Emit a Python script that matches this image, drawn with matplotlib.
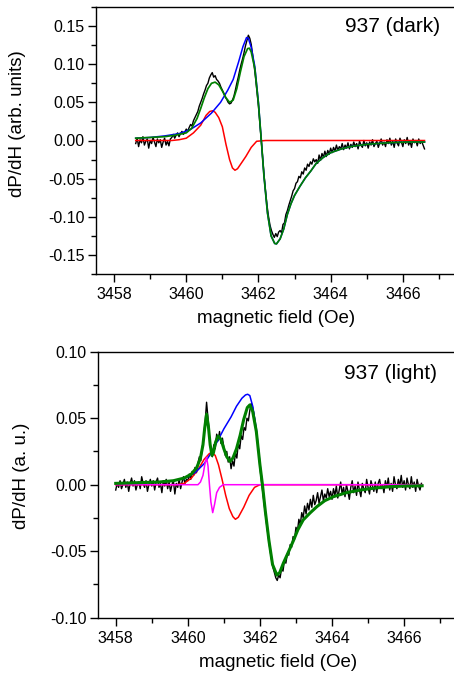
#EPR spectra of sample 937, dark and light, with fitted components
import numpy as np
import matplotlib.pyplot as plt
from matplotlib.ticker import MultipleLocator

plt.rcParams['font.family']=['Liberation Sans','DejaVu Sans']
plt.rcParams['axes.unicode_minus']=False

#top panel (dark)
dark_field=np.linspace(3458.6,3466.6,201)
dark_signal=[
-0.004,0.003,-0.008,0.001,-0.003,0.005,-0.006,-0.001,0.002,-0.010,0.000,-0.004,0.004,-0.002,-0.008,0.002,-0.003,0.001,-0.009,-0.002,0.003,-0.006,-0.001,-0.007,0.002,
0.004,0.008,0.003,0.007,0.010,0.005,0.009,0.012,0.008,0.011,0.015,0.012,0.017,0.021,0.019,0.026,0.030,0.034,0.038,0.045,0.050,0.055,0.061,0.066,0.072,
0.075,0.082,0.086,0.089,0.083,0.085,0.080,0.078,0.075,0.070,0.066,0.062,0.057,0.054,0.050,0.048,0.049,0.053,0.058,0.066,0.075,0.083,0.092,0.100,0.107,
0.115,0.124,0.131,0.138,0.134,0.126,0.112,0.098,0.082,0.064,0.045,0.022,0.000,-0.024,-0.048,-0.068,-0.086,-0.100,-0.111,-0.118,-0.123,-0.127,-0.122,-0.126,-0.120,
-0.118,-0.121,-0.110,-0.108,-0.097,-0.092,-0.085,-0.079,-0.073,-0.066,-0.063,-0.056,-0.054,-0.047,-0.049,-0.041,-0.044,-0.036,-0.039,-0.031,-0.034,-0.028,-0.031,-0.024,-0.028,
-0.025,-0.030,-0.019,-0.026,-0.017,-0.022,-0.014,-0.021,-0.013,-0.018,-0.010,-0.016,-0.009,-0.014,-0.006,-0.013,-0.008,-0.011,-0.004,-0.012,-0.006,-0.010,-0.003,-0.011,-0.005,
-0.009,-0.002,-0.008,-0.004,-0.011,-0.001,-0.006,-0.009,0.000,-0.007,-0.003,-0.010,-0.002,-0.006,0.001,-0.008,-0.004,-0.001,-0.009,-0.003,0.002,-0.006,-0.002,-0.008,0.001,
-0.004,0.003,-0.006,-0.001,-0.009,0.002,-0.003,-0.007,0.003,-0.002,-0.008,0.001,-0.004,0.004,-0.006,-0.001,-0.009,0.002,-0.003,0.000,-0.007,0.002,-0.004,-0.001,-0.006,-0.011]

dark_fit_x=[3458.6,3459.0,3459.4,3459.7,3460.0,3460.15,3460.3,3460.4,3460.5,3460.6,3460.7,3460.8,3460.9,3461.0,3461.1,3461.2,3461.3,3461.4,3461.5,3461.6,3461.7,3461.75,3461.8,3461.9,3462.0,3462.08,3462.15,3462.25,3462.35,3462.45,3462.5,3462.6,3462.7,3462.8,3462.9,3463.0,3463.15,3463.3,3463.45,3463.6,3463.8,3464.0,3464.3,3464.55,3465.0,3465.6,3466.1,3466.6]
dark_fit=[0.003,0.004,0.005,0.007,0.010,0.016,0.029,0.042,0.056,0.068,0.075,0.0765,0.073,0.065,0.056,0.050,0.053,0.068,0.090,0.110,0.1205,0.121,0.116,0.094,0.048,0.0,-0.045,-0.095,-0.125,-0.135,-0.1355,-0.129,-0.116,-0.097,-0.083,-0.072,-0.060,-0.049,-0.040,-0.030,-0.022,-0.016,-0.011,-0.008,-0.005,-0.003,-0.002,-0.002]

dark_broad_x=[3458.6,3459.0,3459.4,3459.8,3460.1,3460.4,3460.7,3460.95,3461.15,3461.3,3461.45,3461.57,3461.67,3461.72,3461.8,3461.9,3462.0,3462.08,3462.15,3462.25,3462.35,3462.45,3462.5,3462.6,3462.7,3462.8,3462.9,3463.0,3463.15,3463.3,3463.45,3463.6,3463.8,3464.0,3464.3,3464.55,3465.0,3465.6,3466.1,3466.6]
dark_broad=[0.003,0.004,0.006,0.009,0.014,0.023,0.036,0.050,0.066,0.080,0.103,0.123,0.135,0.134,0.122,0.097,0.050,0.0,-0.045,-0.095,-0.125,-0.135,-0.1355,-0.129,-0.116,-0.097,-0.083,-0.072,-0.060,-0.049,-0.040,-0.030,-0.022,-0.016,-0.011,-0.008,-0.005,-0.003,-0.002,-0.002]

dark_narrow_x=[3458.6,3459.6,3459.8,3460.0,3460.2,3460.4,3460.55,3460.65,3460.73,3460.8,3460.9,3461.0,3461.1,3461.2,3461.28,3461.35,3461.42,3461.55,3461.65,3461.8,3461.95,3462.2,3466.6]
dark_narrow=[0.0,0.0,0.001,0.003,0.010,0.020,0.033,0.038,0.039,0.037,0.030,0.018,-0.005,-0.025,-0.036,-0.039,-0.037,-0.028,-0.021,-0.009,-0.001,0.0,0.0]

#bottom panel (light)
light_field=np.linspace(3458.0,3466.48,213)
light_signal=[
-0.004,0.001,-0.002,0.003,-0.003,0.000,0.004,-0.002,0.002,-0.005,0.001,0.005,-0.001,0.003,-0.004,0.000,0.002,-0.003,0.006,0.001,-0.002,0.003,-0.005,0.000,0.004,
-0.001,0.003,-0.004,0.002,0.005,-0.002,0.001,-0.006,0.003,-0.001,0.004,-0.003,0.002,-0.005,0.000,0.003,-0.007,0.001,-0.002,0.004,-0.003,0.002,0.006,0.001,0.004,
0.003,0.008,0.004,0.010,0.007,0.013,0.009,0.016,0.021,0.018,0.028,0.035,0.047,0.062,0.050,0.036,0.026,0.021,0.030,0.027,0.038,0.033,0.040,0.031,0.035,
0.028,0.022,0.025,0.017,0.021,0.012,0.018,0.014,0.024,0.020,0.031,0.027,0.037,0.034,0.043,0.041,0.050,0.048,0.056,0.061,0.058,0.052,0.044,0.035,0.026,
0.013,0.003,-0.006,-0.015,-0.024,-0.033,-0.041,-0.049,-0.056,-0.062,-0.066,-0.070,-0.072,-0.068,-0.070,-0.063,-0.065,-0.057,-0.059,-0.052,-0.053,-0.045,-0.047,-0.039,-0.041,
-0.032,-0.035,-0.026,-0.030,-0.021,-0.025,-0.016,-0.022,-0.014,-0.019,-0.011,-0.017,-0.008,-0.015,-0.012,-0.006,-0.014,-0.009,-0.004,-0.012,-0.007,-0.010,-0.003,-0.009,-0.005,
-0.011,-0.003,-0.008,-0.001,-0.010,-0.004,0.002,-0.007,-0.002,-0.009,0.000,-0.005,-0.011,-0.002,0.003,-0.006,-0.001,-0.008,0.002,-0.004,-0.009,0.001,-0.003,-0.006,0.004,
-0.002,-0.007,0.003,-0.001,-0.005,0.002,-0.006,0.001,0.004,-0.003,0.000,-0.006,0.003,-0.002,0.005,-0.004,0.001,-0.005,0.006,0.000,-0.003,0.004,-0.001,0.007,-0.002,
0.003,-0.004,0.005,0.000,-0.003,0.006,-0.002,0.002,-0.005,0.004,-0.001,-0.004,0.001]

light_fit_x=[3458.0,3458.6,3459.2,3459.6,3459.9,3460.1,3460.25,3460.35,3460.42,3460.47,3460.52,3460.57,3460.62,3460.67,3460.71,3460.77,3460.84,3460.92,3461.0,3461.08,3461.17,3461.25,3461.35,3461.45,3461.55,3461.65,3461.72,3461.8,3461.9,3462.0,3462.07,3462.15,3462.25,3462.35,3462.47,3462.55,3462.65,3462.8,3462.93,3463.05,3463.2,3463.4,3463.58,3463.8,3464.04,3464.4,3464.78,3465.2,3465.61,3466.0,3466.5]
light_fit=[0.001,0.0015,0.002,0.003,0.005,0.008,0.013,0.020,0.030,0.043,0.053,0.044,0.030,0.022,0.024,0.032,0.0366,0.034,0.027,0.021,0.0175,0.020,0.027,0.037,0.049,0.058,0.060,0.055,0.040,0.015,0.0,-0.020,-0.042,-0.060,-0.068,-0.066,-0.059,-0.050,-0.042,-0.034,-0.0265,-0.021,-0.0165,-0.012,-0.009,-0.006,-0.004,-0.0025,-0.0015,-0.001,-0.0008]

light_broad_x=[3458.0,3458.6,3459.2,3459.6,3459.9,3460.2,3460.46,3460.65,3460.84,3461.0,3461.2,3461.35,3461.5,3461.6,3461.66,3461.72,3461.8,3461.9,3462.0,3462.07,3462.15,3462.25,3462.35,3462.47,3462.55,3462.65,3462.8,3462.93,3463.05,3463.2,3463.4,3463.58,3463.8,3464.04,3464.4,3464.78,3465.2,3465.61,3466.0,3466.5]
light_broad=[0.001,0.0015,0.002,0.003,0.0045,0.009,0.016,0.024,0.0336,0.042,0.051,0.059,0.065,0.0675,0.068,0.067,0.059,0.042,0.016,0.0,-0.020,-0.042,-0.060,-0.068,-0.066,-0.059,-0.050,-0.042,-0.034,-0.0265,-0.021,-0.0165,-0.012,-0.009,-0.006,-0.004,-0.0025,-0.0015,-0.001,-0.0008]

light_mid_x=[3458.0,3459.7,3459.9,3460.1,3460.3,3460.45,3460.6,3460.68,3460.76,3460.85,3460.95,3461.05,3461.15,3461.25,3461.32,3461.4,3461.55,3461.7,3461.85,3462.0,3466.5]
light_mid=[0.0,0.0,0.001,0.005,0.012,0.019,0.0235,0.024,0.022,0.015,0.004,-0.008,-0.018,-0.024,-0.026,-0.0245,-0.017,-0.008,-0.002,0.0,0.0]

light_narrow_x=[3458.0,3460.28,3460.35,3460.42,3460.47,3460.52,3460.56,3460.6,3460.64,3460.69,3460.74,3460.8,3460.88,3460.98,3466.5]
light_narrow=[0.0,0.0,0.002,0.007,0.015,0.0206,0.014,0.000,-0.013,-0.021,-0.015,-0.006,-0.002,0.0,0.0]

fig=plt.figure(figsize=(4.54,6.77),dpi=100)

def style(ax,ylim,ylabel,ycoords):
    ax.set_xlim(3457.5,3467.5)
    ax.set_ylim(*ylim)
    ax.xaxis.set_major_locator(MultipleLocator(2))
    ax.xaxis.set_minor_locator(MultipleLocator(1))
    ax.yaxis.set_major_locator(MultipleLocator(0.05))
    ax.yaxis.set_minor_locator(MultipleLocator(0.025))
    ax.tick_params(which='both',direction='out',labelsize=11.5,width=1)
    ax.tick_params(axis='y',pad=2)
    ax.tick_params(which='major',length=6)
    ax.tick_params(which='minor',length=3.5)
    ax.set_xlabel('magnetic field (Oe)',fontsize=13.5)
    ax.xaxis.set_label_coords(0.5,-0.135)
    ax.set_ylabel(ylabel,fontsize=13.5)
    ax.yaxis.set_label_coords(*ycoords)
    ax.spines['right'].set_visible(False)
    for s in ['left','bottom','top']:
        ax.spines[s].set_linewidth(1)

ax1=fig.add_axes([96/454,403/677,361/454,267/677])
ax1.plot(dark_field,dark_signal,color='black',lw=1.0)
ax1.plot(dark_narrow_x,dark_narrow,color='red',lw=1.1)
ax1.plot(dark_broad_x,dark_broad,color='blue',lw=1.1)
ax1.plot(dark_fit_x,dark_fit,color='#008000',lw=1.25)
ax1.yaxis.set_major_formatter(plt.FormatStrFormatter('%.2f'))
style(ax1,(-0.175,0.175),'dP/dH (arb. units)',(-0.194,0.562))
ax1.text(0.953,0.926,'937 (dark)',transform=ax1.transAxes,ha='right',va='center',fontsize=15)

ax2=fig.add_axes([97.7/454,59.3/677,360.5/454,266/677])
ax2.plot(light_field,light_signal,color='black',lw=1.0)
ax2.plot(light_mid_x,light_mid,color='red',lw=1.1)
ax2.plot(light_broad_x,light_broad,color='blue',lw=1.1)
ax2.plot(light_narrow_x,light_narrow,color='#ff00ff',lw=1.1)
ax2.plot(light_fit_x,light_fit,color='#008000',lw=2.2)
ax2.yaxis.set_major_formatter(plt.FormatStrFormatter('%.2f'))
style(ax2,(-0.1,0.1),'dP/dH (a. u.)',(-0.188,0.533))
ax2.text(0.94,0.919,'937 (light)',transform=ax2.transAxes,ha='right',va='center',fontsize=15)

fig.savefig('out.png',dpi=100)
